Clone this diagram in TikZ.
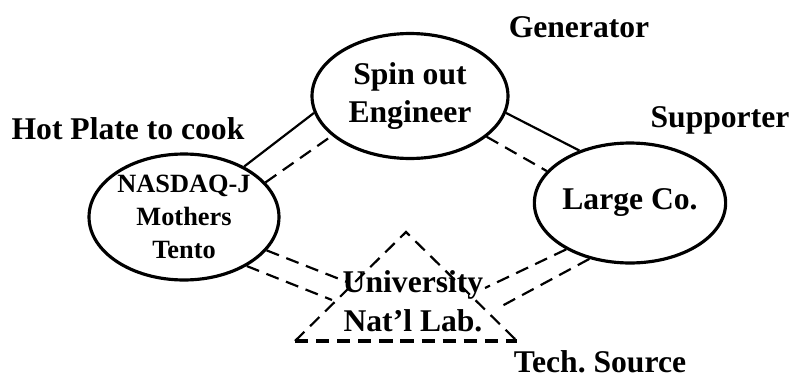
\documentclass[tikz,border=0pt]{standalone}
\usepackage{fontspec}
\setmainfont{Liberation Serif}
\frenchspacing
\usetikzlibrary{shapes.geometric}

\begin{document}
\begin{tikzpicture}[
                    x=0.02cm, y=-0.02cm,
                    every node/.style={font=\bfseries\fontsize{18}{22}\selectfont},
                    party/.style={draw, ellipse, line width=1.8pt, inner sep=0pt, align=center},
                    tie/.style={line width=1.25pt},
                    loose/.style={line width=1.25pt, dash pattern=on 7.5pt off 4.5pt}
                    ]
                    \useasboundingbox (0,0) rectangle (792,389);

                    \node[party, minimum width=3.92cm, minimum height=2.5cm] (spin) at (410,96) {Spin out\\Engineer};
                    \node[party, minimum width=3.8cm, minimum height=2.52cm,
                          font=\bfseries\fontsize{15}{19}\selectfont] (nasdaq) at (184,217) {NASDAQ-J\\Mothers\\Tento};
                    \node[party, minimum width=3.68cm, minimum height=2.4cm] (large) at (630,203) {Large Co.};

                    % university triangle
                    \coordinate (apex) at (406,232);
                    \coordinate (baseL) at (295,341);
                    \coordinate (baseR) at (517,341);
                    \draw[loose, line join=miter] (baseL) -- (apex) -- (baseR);
                    \draw[loose, line width=1.9pt] (baseL) -- (baseR);
                    \node[align=center] (univ) at (413,301) {University\\Nat'l Lab.};

                    \coordinate (u1) at (347,282);
                    \coordinate (u2) at (332,300);
                    \coordinate (u3) at (485,288);
                    \coordinate (u4) at (500,307);

                    \draw[tie] (nasdaq.40) -- (spin.190);
                    \draw[tie] (spin.-10) -- (large.134);
                    \foreach \i/\j in {nasdaq.23/spin.207, spin.-28/large.159,
                                       nasdaq.-22/u1, nasdaq.-38/u2,
                                       large.216/u3, large.234/u4}{
                        \draw[loose] (\i) -- (\j);
                    }

                    % roles
                    \node (gen) at (579,27) {Generator};
                    \node (sup) at (720,120) {Supporter};
                    \node (hot) at (128,129) {Hot Plate to cook};
                    \node (tech) at (600,362) {Tech. Source};
                \end{tikzpicture}
\end{document}
